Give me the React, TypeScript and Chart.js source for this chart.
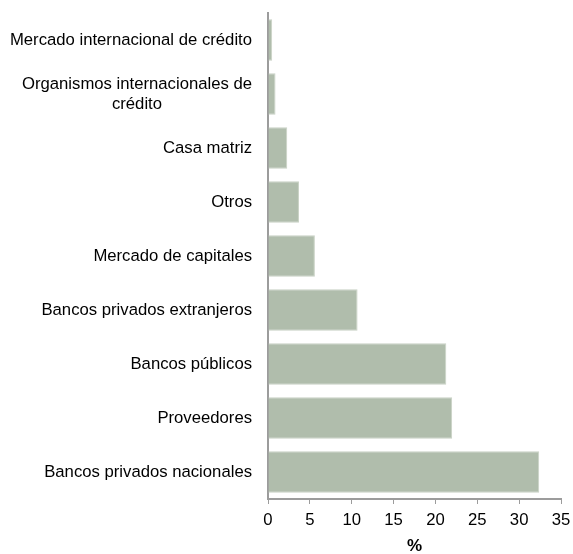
import React, { useEffect, useRef } from "react";
import { Chart, registerables } from "chart.js";

Chart.register(...registerables);

const categories: (string | string[])[] = [
  "Mercado internacional de crédito",
  ["Organismos internacionales de", "crédito"],
  "Casa matriz",
  "Otros",
  "Mercado de capitales",
  "Bancos privados extranjeros",
  "Bancos públicos",
  "Proveedores",
  "Bancos privados nacionales",
];

const values: number[] = [0.5, 0.9, 2.3, 3.7, 5.6, 10.7, 21.3, 22.0, 32.4];

const xTitle = "%";

const FONT = "'Liberation Sans', Arial, sans-serif";
const AXIS = "#9c9c9c";

const labelPlugin = {
  id: "leftLabels",
  afterDraw(chart: any) {
    const ctx = chart.ctx;
    const yScale = chart.scales.y;
    const rightX = chart.chartArea.left - 16;
    const size = 16.7;
    const lh = size * 1.2;
    ctx.save();
    ctx.font = `${size}px ${FONT}`;
    ctx.fillStyle = "#000";
    ctx.textAlign = "center";
    ctx.textBaseline = "middle";
    categories.forEach((cat, i) => {
      const lines = Array.isArray(cat) ? cat : [cat];
      const w = Math.max(...lines.map((l) => ctx.measureText(l).width));
      const cx = rightX - w / 2;
      const cy = yScale.getPixelForValue(i);
      const start = cy - ((lines.length - 1) * lh) / 2;
      lines.forEach((l, j) => ctx.fillText(l, cx, start + j * lh));
    });
    ctx.restore();
  },
};

export default function App() {
  const ref = useRef<HTMLCanvasElement | null>(null);
  useEffect(() => {
    if (!ref.current) return;
    const chart = new Chart(ref.current, {
      type: "bar",
      data: {
        labels: categories.map((c) => (Array.isArray(c) ? c.join(" ") : c)),
        datasets: [
          {
            data: values,
            backgroundColor: "#b0bdac",
            borderColor: "#c9d2c5",
            borderWidth: 1,
            barPercentage: 0.765,
            categoryPercentage: 1,
          },
        ],
      },
      options: {
        indexAxis: "y",
        animation: false,
        responsive: true,
        maintainAspectRatio: false,
        layout: { padding: { top: 13, right: 12, left: 0, bottom: 0 } },
        plugins: {
          legend: { display: false },
          tooltip: { enabled: false },
        },
        scales: {
          x: {
            type: "linear",
            min: 0,
            max: 35,
            ticks: {
              stepSize: 5,
              color: "#000",
              padding: 6,
              font: { family: FONT, size: 16.7 },
            },
            grid: {
              display: true,
              drawOnChartArea: false,
              drawTicks: true,
              tickLength: 5,
              color: AXIS,
              lineWidth: 1,
            },
            border: { display: true, color: AXIS, width: 2 },
            title: {
              display: true,
              text: xTitle,
              color: "#000",
              font: { family: FONT, size: 17, weight: "bold" },
              padding: { top: 0, bottom: -3 },
            },
            afterFit: (scale: any) => {
              scale.height = 55;
              scale.paddingRight = 0;
              scale.paddingLeft = 0;
            },
          },
          y: {
            type: "category",
            ticks: { display: false },
            grid: { display: false },
            border: { display: true, color: AXIS, width: 2 },
            afterFit: (scale: any) => {
              scale.width = 268;
              scale.paddingTop = 0;
              scale.paddingBottom = 0;
            },
          },
        },
      } as any,
      plugins: [labelPlugin],
    });
    return () => chart.destroy();
  }, []);
  return (
    <div style={{ position: "absolute", left: 0, top: 0, width: 573, height: 554 }}>
      <canvas ref={ref} />
    </div>
  );
}
